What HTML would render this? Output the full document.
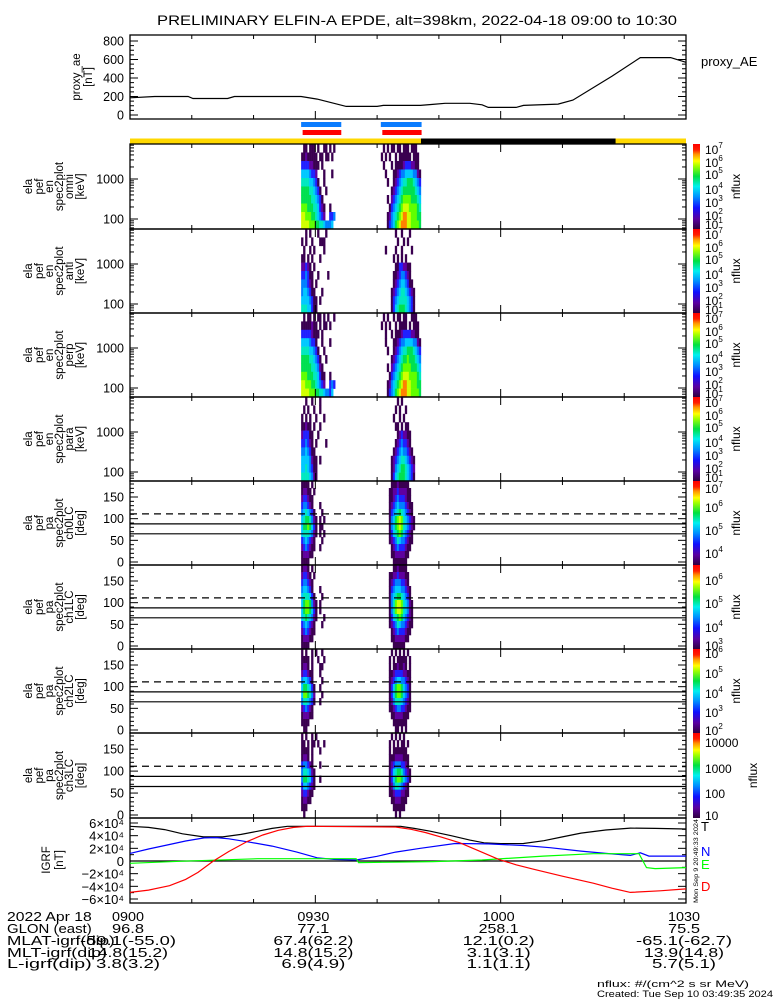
<!DOCTYPE html>
<html><head><meta charset="utf-8"><style>
html,body{margin:0;padding:0;background:#fff;}
svg{display:block;font-family:"Liberation Sans",sans-serif;}
</style></head><body>
<svg id="chart" xmlns="http://www.w3.org/2000/svg" width="775" height="1000" viewBox="0 0 775 1000">
<defs>
<linearGradient id="cbgrad" x1="0" y1="1" x2="0" y2="0">
<stop offset="0" stop-color="#300040"/>
<stop offset="0.12" stop-color="#5a00a0"/>
<stop offset="0.25" stop-color="#1010ff"/>
<stop offset="0.38" stop-color="#0090ff"/>
<stop offset="0.5" stop-color="#00f0f0"/>
<stop offset="0.62" stop-color="#00e040"/>
<stop offset="0.74" stop-color="#a0ff00"/>
<stop offset="0.8" stop-color="#ffff00"/>
<stop offset="0.88" stop-color="#ff9000"/>
<stop offset="0.93" stop-color="#ff2000"/>
<stop offset="1" stop-color="#ff0000"/>
</linearGradient>
</defs>
<rect x="0" y="0" width="775" height="1000" fill="#fff"/>
<text x="417" y="25" font-size="14" text-anchor="middle" textLength="520" lengthAdjust="spacingAndGlyphs">PRELIMINARY ELFIN-A EPDE, alt=398km, 2022-04-18 09:00 to 10:30</text>
<text x="701" y="66" font-size="13">proxy_AE</text>
<text x="701" y="831" font-size="13" fill="#000">T</text>
<text x="701" y="856" font-size="13" fill="#0000ff">N</text>
<text x="701" y="869" font-size="13" fill="#00ff00">E</text>
<text x="701" y="891" font-size="13" fill="#ff0000">D</text>
<text transform="translate(698,903) rotate(-90)" font-size="6" textLength="84" lengthAdjust="spacingAndGlyphs">Mon Sep  9 20:49:33 2024</text>
<text x="597" y="987" font-size="9.5" textLength="152" lengthAdjust="spacingAndGlyphs">nflux: #/(cm^2 s sr MeV)</text>
<text x="597" y="997" font-size="9.5" textLength="176" lengthAdjust="spacingAndGlyphs">Created: Tue Sep 10 03:49:35 2024</text>
</svg>
<script>
// ---------- data ----------
const aeTimes  = [0, 4, 9.4, 10.2, 15.8, 16.9, 27.7, 30.3, 35, 40, 41, 47, 49, 51, 55, 57, 58, 62.5, 63.7, 69.3, 71.7, 78, 82.6, 87.5, 90];
const aeValues = [186, 200, 200, 178, 178, 200, 200, 172, 93, 93, 104, 104, 115, 126, 126, 110, 82, 82, 104, 118, 161, 420, 620, 620, 570];

const igrfTTimes = [0, 3, 5.6, 8.5, 11.9, 15, 18, 20.7, 23, 25.5, 43.8, 46, 48.6, 52, 55, 57.3, 60, 63.7, 67, 70, 73, 77, 81, 85, 90];
const igrfT      = [54800, 53000, 49600, 43000, 38000, 38000, 42000, 47000, 51500, 54800, 54800, 51500, 47000, 40000, 33000, 28700, 27500, 27600, 32000, 38000, 44000, 49000, 52000, 51500, 50600];
const igrfNTimes = [0, 3, 6.4, 9, 12, 14, 16, 19.5, 23, 27, 30.3, 33, 36.6, 40, 43, 47, 52.6, 58, 63.7, 68, 73, 77, 81, 82.6, 84, 90];
const igrfN      = [12000, 19000, 26000, 31500, 36500, 37000, 35000, 29500, 23500, 14000, 5000, 2500, 1600, 7500, 14000, 20000, 27600, 27000, 24500, 21000, 15600, 12000, 8900, 13000, 7800, 7800];
const igrfETimes = [0, 8, 20.7, 36.6, 37, 49, 57, 66.9, 75, 82.4, 83.6, 85, 90];
const igrfE      = [-3600, -500, 3600, 3600, -2600, -1000, 1600, 7800, 11500, 11500, -10400, -12000, -10400];
const igrfDTimes = [0, 3, 6.4, 9, 11, 13.5, 16, 19, 21.5, 24, 26.5, 28.7, 43, 45.5, 47.8, 50.5, 53.4, 56.5, 59.7, 62.5, 65.3, 70, 75, 78, 81, 85.8, 90];
const igrfD      = [-49600, -46000, -39000, -29000, -18000, 0, 15000, 31000, 41000, 48500, 53000, 54800, 53700, 50000, 45000, 37500, 28700, 16000, 2600, -6000, -13000, -24000, -35000, -43000, -49600, -47000, -44000];

const aeTickValues = [0, 200, 400, 600, 800];
const igrfTickValues = [60000, 40000, 20000, 0, -20000, -40000, -60000];
const igrfTickLabels = ["6×10⁴", "4×10⁴", "2×10⁴", "0", "−2×10⁴", "−4×10⁴", "−6×10⁴"];
const energyTickValues = [1000, 100];
const paTickValues = [0, 50, 100, 150];
const paLossConeDashed = [111];
const paLossConeSolid = [88, 65];

const passStart = [27.7, 40.6];
const colMinutes = 0.324;
const scienceZoneStart = [27.7, 40.6];
const scienceZoneEnd = [34.2, 47.2];
const nightStart = 47.1, nightEnd = 78.6;

const omniPass1 = ["01101110100110101000","11211111011011010000","33332211101000000000","55554332000100010000","66665543100100000000","77776654310010000000","77777665431000000000","88877766532100100000","99888776543200334000","99998887766544450000"];
const omniPass2 = ["01010110110111011100","10101001011111101110","01000101111233322110","00100011234455554421","00010012345667776543","00000123456777777654","00010234567888877765","00001345678999888876","00012456789aa9988877","0001345789aaa9988887"];
const antiPass1 = ["00101000100010000000","10100100011100000000","01001010000100000000","11010100010000000000","22321010000000000000","33431100100001000000","44432101000000000000","45543110001000000000","55554311010000000000","66655311000000000000"];
const antiPass2 = ["00000001001000100000","00000000100101000000","00100001001000010000","00000010101010000000","00000001133221100000","00000011234432100000","00000012345543110000","00000123456654321000","00000134566665431000","00000135677765431000"];
const perpPass1 = ["01011010110101001000","11111211010110100000","33333211101000000000","55554331001000100000","66665543100100000000","77776654310010000000","77777665421000000000","88877766531100100000","99888776543200343000","99998887766544350000"];
const perpPass2 = ["01010010110110011100","10101001011110101110","00100101112333322110","00100011234455554421","00010012345667776543","00000123456778777654","00010234567888877765","00001345678999888876","00012456789aa9988877","0001345789aaa9988887"];
const paraPass1 = ["00100100010000000000","01010010010000000000","10101001000100000000","11211010010000000000","23331100100000000000","33432101000010000000","44543110000000000000","55554211010000000000","55654311000000000000","66665421000000000000"];
const paraPass2 = ["00000000101000000000","00000001010010000000","00000010010100000000","00000001101011000000","00000000123221100000","00000001234332100000","00000012345443210000","00000123456654321000","00000124567765432000","00000135677765431000"];

const pa0Pass1 = ["11110100000000000000","12211010000000000000","23321100000000000000","34432100010000000000","45654310001000000000","56776421010100000000","57787531011000000000","56665421010100000000","34543210001000000000","23432110010000000000","12221100000000000000","11110000000000000000"];
const pa0Pass2 = ["00000111211111000000","00001122322221100000","00001123433321100000","00001234544432110000","00001345676543210000","00001457898654321000","00001457898654321000","00001356787543210000","00001234654432110000","00000123433321100000","00000112222211000000","00000011111110000000"];
const pa1Pass1 = ["12210100000000000000","23321010000000000000","34432100000000000000","45543100010000000000","56665310001000000000","57887421010000000000","57887531010000000000","56765421000100000000","34543210001000000000","23432110000000000000","12221100000000000000","11110000000000000000"];
const pa1Pass2 = ["00000011211110000000","00001122322211000000","00001234443321000000","00001345554432100000","00001456776543100000","00001468998654210000","00001468998654210000","00001356787543210000","00001234654432110000","00000123433321100000","00000112222211000000","00000011111100000000"];
const pa2Pass1 = ["10100101001000000000","11110100100100000000","12210100011000000000","23321100010000000000","45543100001000000000","57765310010000000000","58876420001000000000","46654310010000000000","23432100000000000000","12221100000000000000","11110000000000000000","01100000000000000000"];
const pa2Pass2 = ["00000101010101000000","00001010111110100000","00001011211210100000","00001123333221100000","00001234554432100000","00001357887543100000","00001357887543100000","00001246665432100000","00001123443321100000","00000112222111000000","00000011111110000000","00000001101010000000"];
const pa3Pass1 = ["10100101000000000000","11010110100100000000","11110100010000000000","12210100000000000000","34432100010000000000","46654210000000000000","47765310010000000000","35543210000000000000","23321100000000000000","12211000000000000000","11100000000000000000","01000000000000000000"];
const pa3Pass2 = ["00000101010100000000","00001010101101000000","00001011111110000000","00001112222111000000","00001234443321000000","00001356776432100000","00001357887543100000","00001246654321000000","00001123332211000000","00000112221110000000","00000011111100000000","00000001010000000000"];

const cbLabels = [
  {b:["10","10","10","10","10","10","10"], e:["7","6","5","4","3","2","1"], off:[5,18,30,45,58,71,80]},
  {b:["10","10","10","10","10","10","10"], e:["7","6","5","4","3","2","1"], off:[5,18,30,45,58,71,80]},
  {b:["10","10","10","10","10","10","10"], e:["7","6","5","4","3","2","1"], off:[5,18,30,45,58,71,80]},
  {b:["10","10","10","10","10","10","10"], e:["7","6","5","4","3","2","1"], off:[5,18,30,45,58,71,80]},
  {b:["10","10","10","10"], e:["7","6","5","4"], off:[7,26,49,72]},
  {b:["10","10","10","10"], e:["6","5","4","3"], off:[15,38,62,80]},
  {b:["10","10","10","10","10"], e:["6","5","4","3","2"], off:[4,24,44,63,81]},
  {b:["10000","1000","100","10"], e:["","","",""], off:[9,35,60,82]}
];

const footerRowLabels = ["2022 Apr 18","GLON (east)","MLAT-igrf(dip)","MLT-igrf(dip)","L-igrf(dip)"];
const footerTimes = [0, 30, 60, 90];
const footerValues = [
  ["0900","0930","1000","1030"],
  ["96.8","77.1","258.1","75.5"],
  ["-59.1(-55.0)","67.4(62.2)","12.1(0.2)","-65.1(-62.7)"],
  ["14.8(15.2)","14.8(15.2)","3.1(3.1)","13.9(14.8)"],
  ["3.8(3.2)","6.9(4.9)","1.1(1.1)","5.7(5.1)"]
];

// ---------- layout ----------
const NS = 'http://www.w3.org/2000/svg';
const svg = document.getElementById('chart');
const X0 = 130, X1 = 686;
function xOf(t){ return X0 + t/90*(X1-X0); }
function mk(tag, attrs, parent){
  const e = document.createElementNS(NS, tag);
  for (const k in attrs) e.setAttribute(k, attrs[k]);
  (parent||svg).appendChild(e);
  return e;
}
const colors = {'1':'#3a0050','2':'#6000a0','3':'#2020ff','4':'#0080ff','5':'#00c8ff','6':'#00e8c0','7':'#00e050','8':'#60ff00','9':'#d0ff00','a':'#ff8000'};

function frame(top, bottom, name){
  const g = mk('g', {});
  
  
  const r = mk('rect', {x:X0, y:top, width:X1-X0, height:bottom-top, fill:'none', stroke:'#000', 'stroke-width':1.3}, g);
  
  
  for (let t = 0; t <= 90; t += 10) {
    const L = (t % 30 === 0) ? 8 : 4;
    mk('line', {x1:xOf(t), x2:xOf(t), y1:bottom, y2:bottom-L, stroke:'#000'}, g);
    mk('line', {x1:xOf(t), x2:xOf(t), y1:top, y2:top+L, stroke:'#000'}, g);
  }
  return g;
}
function yTick(g, y, L){
  mk('line', {x1:X0, x2:X0+L, y1:y, y2:y, stroke:'#000'}, g);
  mk('line', {x1:X1, x2:X1-L, y1:y, y2:y, stroke:'#000'}, g);
}
function tickLabel(g, y, txt){
  const t = mk('text', {x:124, y:y+4.5, 'font-size':12.5, 'text-anchor':'end'}, g);
  t.textContent = txt;
  return t;
}
function sideTitle(lines, xs, cy, name){
  const g = mk('g', {});
  
  
  lines.forEach((s, i) => {
    const t = mk('text', {transform:`translate(${xs[i]},${cy}) rotate(-90)`, 'font-size':11.5, 'text-anchor':'middle'}, g);
    t.textContent = s;
  });
}
function polyline(times, vals, yf, color, name){
  const pts = times.map((t, i) => xOf(t).toFixed(1) + ',' + yf(vals[i]).toFixed(1)).join(' ');
  const p = mk('polyline', {points:pts, fill:'none', stroke:color, 'stroke-width':1.2});
  
  
}

// ---------- AE panel ----------
const aeTop = 35, aeBot = 119;
function aeY(v){ return 115 - v*(74/800); }
const aeG = frame(aeTop, aeBot, 'proxy-ae-panel');
for (let v = 0; v <= 800; v += 50) yTick(aeG, aeY(v), v % 200 === 0 ? 8 : 4);
aeTickValues.forEach(v => tickLabel(aeG, aeY(v), String(v)));
polyline(aeTimes, aeValues, aeY, '#000', 'proxy-ae-line');
sideTitle(['proxy_ae','[nT]'], [80, 92], 77, 'proxy-ae-axis-title');

// ---------- orbit bars ----------
for (let i = 0; i < scienceZoneStart.length; i++) {
  const b = mk('rect', {x:xOf(scienceZoneStart[i]), y:122, width:xOf(scienceZoneEnd[i])-xOf(scienceZoneStart[i]), height:5, fill:'#0a7cff'});
  
  
  const r = mk('rect', {x:xOf(scienceZoneStart[i])+1.5, y:130, width:xOf(scienceZoneEnd[i])-xOf(scienceZoneStart[i])-1.5, height:5, fill:'#ff0000'});
  
  
}
const yb = mk('rect', {x:X0, y:138.5, width:X1-X0, height:5, fill:'#ffd800'});


const nb = mk('rect', {x:xOf(nightStart), y:138.5, width:xOf(nightEnd)-xOf(nightStart), height:5, fill:'#000'});



// ---------- spectrogram panels ----------
const tops = [144, 229, 313, 397, 481, 565, 649, 733, 818];
const specGrids = [[omniPass1, omniPass2],[antiPass1, antiPass2],[perpPass1, perpPass2],[paraPass1, paraPass2],
                   [pa0Pass1, pa0Pass2],[pa1Pass1, pa1Pass2],[pa2Pass1, pa2Pass2],[pa3Pass1, pa3Pass2]];
const specNames = ['omni','anti','perp','para','ch0LC','ch1LC','ch2LC','ch3LC'];

for (let p = 0; p < 8; p++) {
  const top = tops[p], bot = tops[p+1], h = bot - top;
  const cells = mk('g', {});
  
  
  specGrids[p].forEach((grid, pi) => {
    const rh = h / grid.length;
    grid.forEach((row, ri) => {
      for (let c = 0; c < row.length; c++) {
        const ch = row[c];
        if (ch === '0') continue;
        const x = xOf(passStart[pi] + c*colMinutes);
        const w = xOf(passStart[pi] + (c+1)*colMinutes) - x;
        const cell = mk('rect', {x:x.toFixed(2), y:(top + ri*rh).toFixed(2), width:(w+0.3).toFixed(2), height:(rh+0.3).toFixed(2), fill:colors[ch]}, cells);
        
        
      }
    });
  });
  const g = frame(top, bot, 'panel-' + specNames[p]);
  if (p < 4) {
    const eY = v => top + 35 + (3 - Math.log10(v))*40;
    [100, 1000].forEach(dec => { for (let m = 1; m < 10; m++) { const v = dec*m; const y = eY(v); if (y > top && y < bot) yTick(g, y, m === 1 ? 8 : 4); } });
    [60, 70, 80, 90].forEach(v => yTick(g, eY(v), 4));
    energyTickValues.forEach(v => tickLabel(g, eY(v), String(v)));
    sideTitle(['ela','pef','en','spec2plot', specNames[p], '[keV]'], [32, 43, 53, 63, 73, 84], (top+bot)/2, 'axis-title-' + specNames[p]);
  } else {
    const s = (h - 6) / 180;
    const pY = d => bot - 3 - d*s;
    for (let d = 0; d <= 180; d += 10) yTick(g, pY(d), d % 50 === 0 ? 8 : 4);
    paTickValues.forEach(d => tickLabel(g, pY(d), String(d)));
    paLossConeDashed.forEach(d => {
      const l = mk('line', {x1:X0, x2:X1, y1:pY(d), y2:pY(d), stroke:'#000', 'stroke-width':1.2, 'stroke-dasharray':'7,5'});
      
      
    });
    paLossConeSolid.forEach(d => {
      const l = mk('line', {x1:X0, x2:X1, y1:pY(d), y2:pY(d), stroke:'#000', 'stroke-width':1.2});
      
      
    });
    sideTitle(['ela','pef','pa','spec2plot', specNames[p], '[deg]'], [32, 43, 53, 63, 73, 84], (top+bot)/2, 'axis-title-' + specNames[p]);
  }
  const cb = mk('rect', {x:693, y:top, width:7, height:h, fill:'url(#cbgrad)'});
  
  
  const lab = cbLabels[p];
  lab.off.forEach((o, i) => {
    const t = mk('text', {x:705, y:top + o + 5, 'font-size':12});
    
    
    t.textContent = lab.b[i];
    if (lab.e[i]) {
      const sp = mk('tspan', {dy:-6, 'font-size':8}, t);
      sp.textContent = lab.e[i];
    }
  });
  const nf = mk('text', {transform:`translate(${p === 7 ? 757 : 740},${(top+bot)/2}) rotate(-90)`, 'font-size':12, 'text-anchor':'middle'});
  
  
  nf.textContent = 'nflux';
}

// ---------- IGRF panel ----------
const igTop = 818, igBot = 903;
function igY(v){ return 861 - v*(38/60000); }
const igG = frame(igTop, igBot, 'igrf-panel');
for (let v = -60000; v <= 60000; v += 10000) yTick(igG, igY(v), v % 20000 === 0 ? 8 : 4);
igrfTickValues.forEach((v, i) => {
  const t = mk('text', {x:124, y:igY(v)+5, 'font-size':13, 'text-anchor':'end'}, igG);
  t.textContent = igrfTickLabels[i];
});
const zl = mk('line', {x1:X0, x2:X1, y1:igY(0), y2:igY(0), stroke:'#000', 'stroke-width':1.2});


polyline(igrfTTimes, igrfT, igY, '#000', 'igrf-t-line');
polyline(igrfNTimes, igrfN, igY, '#0000ff', 'igrf-n-line');
polyline(igrfETimes, igrfE, igY, '#00ff00', 'igrf-e-line');
polyline(igrfDTimes, igrfD, igY, '#ff0000', 'igrf-d-line');
sideTitle(['IGRF','[nT]'], [50, 63], 860, 'igrf-axis-title');

// ---------- footer ----------
const rowY = [921, 933, 945, 957, 968];
footerRowLabels.forEach((s, i) => {
  const t = mk('text', {x:7, y:rowY[i], 'font-size':12.5, textLength:(s.length*7.7).toFixed(1), lengthAdjust:'spacingAndGlyphs'});
  
  
  t.textContent = s;
});
footerValues.forEach((row, i) => {
  row.forEach((s, j) => {
    const t = mk('text', {x:xOf(footerTimes[j]) - 2, y:rowY[i], 'font-size':12.5, 'text-anchor':'middle', textLength:(s.length*8.0).toFixed(1), lengthAdjust:'spacingAndGlyphs'});
    
    
    t.textContent = s;
  });
});
</script>
</body></html>
